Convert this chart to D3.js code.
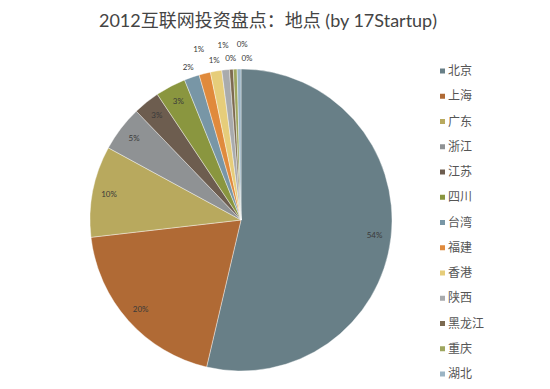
<!DOCTYPE html>
<html><head><meta charset="utf-8">
<script src="https://cdn.jsdelivr.net/npm/d3@7"></script>
<style>body{margin:0;background:#fff}svg{display:block}</style>
</head><body>
<svg id="c" width="550" height="389"></svg>
<script>
const categories = ["北京","上海","广东","浙江","江苏","四川","台湾","福建","香港","陕西","黑龙江","重庆","湖北"];
const values = [132,48,24,12,7,8,4,3,3,2,1,1,1];
const colors = ["#687f87","#b06a35","#b8a95e","#8f9294","#6d5d4f","#8a963f","#7896a6","#e08a3c","#e6cd7a","#a9abad","#7c6a50","#9ea65f","#9bb4c4"];
const title = "2012互联网投资盘点：地点 (by 17Startup)";

const svg = d3.select("#c");
const cx = 241, cy = 220, r = 151;
const font = "Lato, 'Noto Sans CJK SC', sans-serif";

svg.append("text").attr("x", 268).attr("y", 27).attr("text-anchor","middle")
  .attr("font-family", font).attr("font-size", 18).attr("fill","#444").text(title);

const data = categories.map((c,i)=>({c, v: values[i], col: colors[i]}));
const total = d3.sum(values);
const pie = d3.pie().value(d=>d.v).sort(null);
const arcs = pie(data);
const arc = d3.arc().innerRadius(0).outerRadius(r);
const g = svg.append("g").attr("transform", `translate(${cx},${cy})`);
g.selectAll("path").data(arcs).join("path").attr("d", arc)
  .attr("fill", d=>d.data.col).attr("stroke","#fff").attr("stroke-width",0.4);

const fmt = d3.format(".0%");
const placed = [];
const hw = 7, hh = 5;
arcs.forEach(a=>{
  const frac = a.data.v/total;
  const mid = (a.startAngle + a.endAngle)/2;
  let x, y;
  if (frac > 0.025) {
    const R = r*0.89;
    x = Math.sin(mid)*R; y = -Math.cos(mid)*R;
  } else {
    const cands = [];
    [0, 8, 16, 24, 32].forEach(s=>{
      [r+11, r+25].forEach(R=>cands.push([Math.sin(mid)*R + s, -Math.cos(mid)*R]));
    });
    for (const [px,py] of cands){
      const box = {x0:px-hw,x1:px+hw,y0:py-hh,y1:py+hh};
      const hit = placed.some(b=>!(box.x1<=b.x0||box.x0>=b.x1||box.y1<=b.y0||box.y0>=b.y1));
      if(!hit){placed.push(box); x=px; y=py; break;}
    }
  }
  g.append("text").attr("x", x).attr("y", y).attr("dy","0.35em")
    .attr("text-anchor","middle").attr("font-family", font).attr("font-size", 8)
    .attr("fill", "#3a3a3a").text(fmt(frac));
});

const ly = d3.scalePoint().domain(categories).range([71, 374]);
const lg = svg.append("g");
categories.forEach((c,i)=>{
  lg.append("rect").attr("x", 440).attr("y", ly(c)-2.5).attr("width",5).attr("height",5).attr("fill", colors[i]);
  lg.append("text").attr("x", 448).attr("y", ly(c)).attr("dy","0.35em")
    .attr("font-family", font).attr("font-size", 12).attr("fill","#555").text(c);
});
</script>
</body></html>
